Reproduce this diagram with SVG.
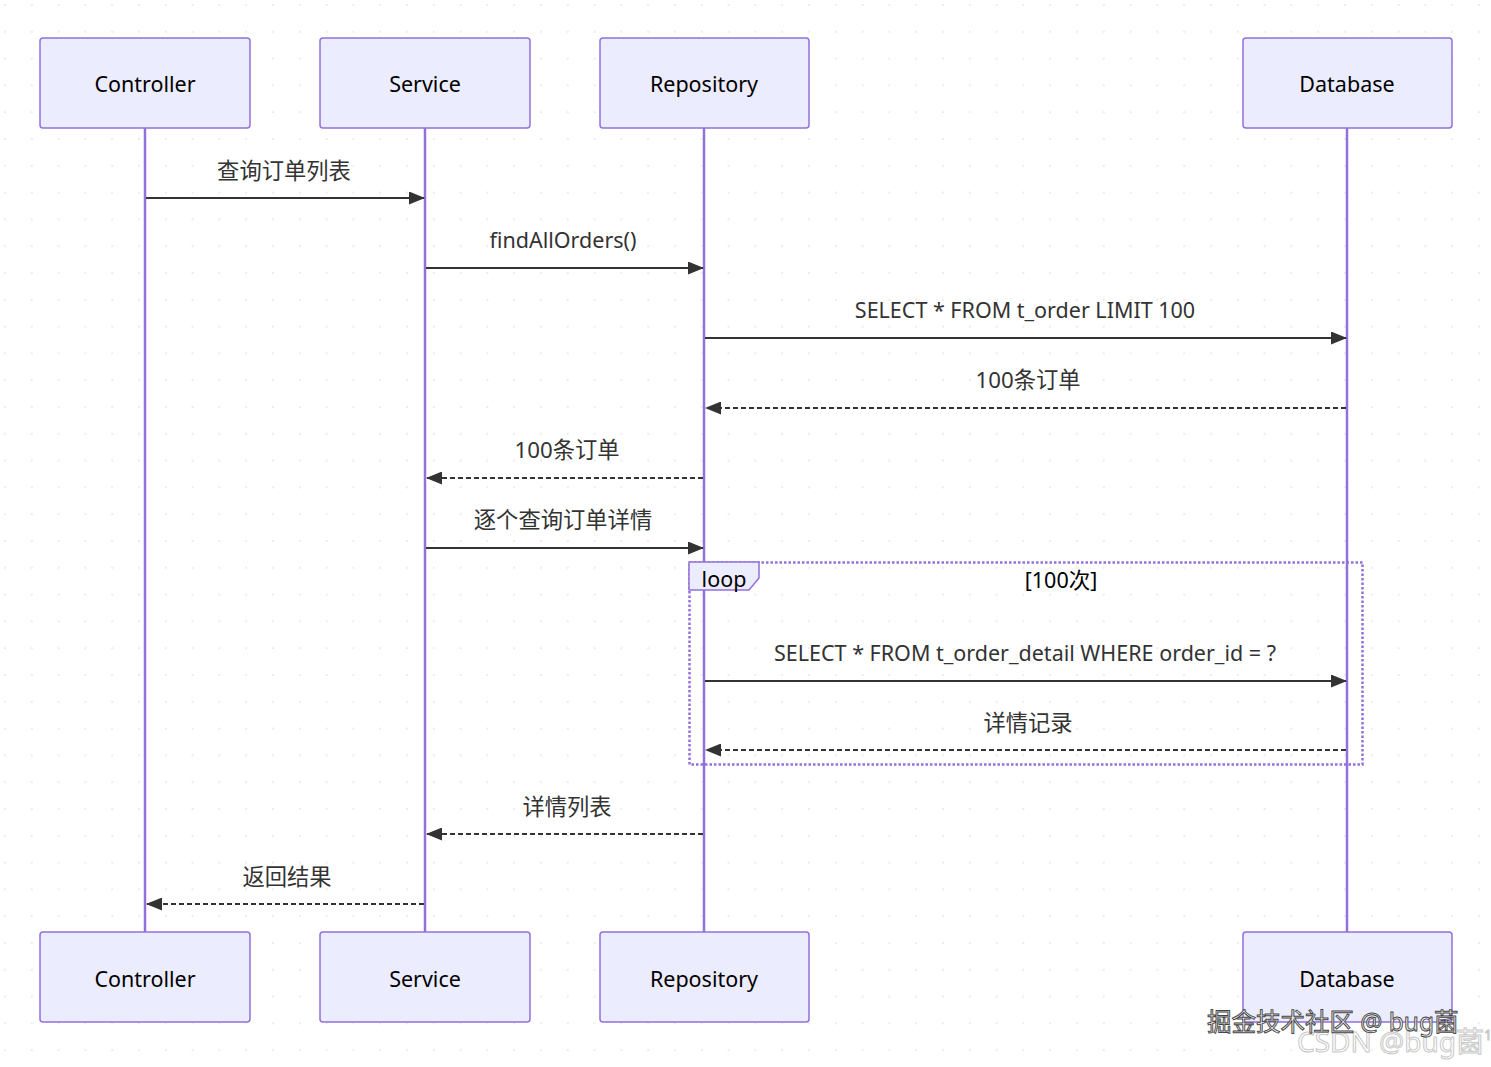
<svg xmlns="http://www.w3.org/2000/svg" width="1491" height="1067" viewBox="0 0 1491 1067">
<style>
.actor{fill:#ECECFF;stroke:#9370DB;stroke-width:1.5}
.atext{font-family:"Noto Sans","Noto Sans CJK SC",sans-serif;font-size:21.5px;fill:#000;text-anchor:middle;dominant-baseline:central}
.life{stroke:#9370DB;stroke-width:2.5}
.msg{stroke:#333;stroke-width:2;fill:none}
.dash{stroke-dasharray:5,3}
.mtext{font-family:"Noto Sans","Noto Sans CJK SC",sans-serif;font-size:21.5px;fill:#333;text-anchor:middle;dominant-baseline:central}
.cjk{font-size:22.3px}
.loop{fill:none;stroke:#9370DB;stroke-width:2.5;stroke-dasharray:2.5,2}
</style>
<defs>
<pattern id="dots" width="26.8" height="26.8" patternUnits="userSpaceOnUse" x="4" y="4">
<circle cx="1" cy="1" r="1" fill="#e6e6e6"/>
</pattern>
<marker id="ah" markerWidth="16" markerHeight="13" refX="15" refY="6.5" orient="auto" markerUnits="userSpaceOnUse">
<path d="M0,0 L16,6.5 L0,13 z" fill="#333"/>
</marker>
</defs>
<rect width="1491" height="1067" fill="#fff"/>
<rect width="1491" height="1067" fill="url(#dots)"/>
<g id="lifelines">
<line class="life" x1="145" y1="128" x2="145" y2="932"/>
<line class="life" x1="425" y1="128" x2="425" y2="932"/>
<line class="life" x1="704" y1="128" x2="704" y2="932"/>
<line class="life" x1="1347" y1="128" x2="1347" y2="932"/>
</g>
<g id="controller-top"><rect class="actor" x="40" y="38" width="210" height="90" rx="3"/><text class="atext" x="145" y="83">Controller</text></g>
<g id="service-top"><rect class="actor" x="320" y="38" width="210" height="90" rx="3"/><text class="atext" x="425" y="83">Service</text></g>
<g id="repository-top"><rect class="actor" x="600" y="38" width="209" height="90" rx="3"/><text class="atext" x="704" y="83">Repository</text></g>
<g id="database-top"><rect class="actor" x="1243" y="38" width="209" height="90" rx="3"/><text class="atext" x="1347" y="83">Database</text></g>
<g id="controller-bottom"><rect class="actor" x="40" y="932" width="210" height="90" rx="3"/><text class="atext" x="145" y="978">Controller</text></g>
<g id="service-bottom"><rect class="actor" x="320" y="932" width="210" height="90" rx="3"/><text class="atext" x="425" y="978">Service</text></g>
<g id="repository-bottom"><rect class="actor" x="600" y="932" width="209" height="90" rx="3"/><text class="atext" x="704" y="978">Repository</text></g>
<g id="database-bottom"><rect class="actor" x="1243" y="932" width="209" height="90" rx="3"/><text class="atext" x="1347" y="978">Database</text></g>
<g id="loop">
<rect class="loop" x="689.5" y="562.5" width="673" height="202"/>
<path d="M689,562 L759,562 L759,578 L749,590 L689,590 Z" fill="#ECECFF" stroke="#9370DB" stroke-width="1.5"/>
<text class="atext" x="724" y="578">loop</text>
<text class="atext" x="1061" y="579">[100次]</text>
</g>
<g id="connectors">
<line class="msg" x1="146" y1="198" x2="424" y2="198" marker-end="url(#ah)"/>
<text class="mtext cjk" x="284" y="170">查询订单列表</text>
<line class="msg" x1="426" y1="268" x2="703" y2="268" marker-end="url(#ah)"/>
<text class="mtext" x="563" y="239">findAllOrders()</text>
<line class="msg" x1="705" y1="338" x2="1346" y2="338" marker-end="url(#ah)"/>
<text class="mtext" x="1025" y="309">SELECT * FROM t_order LIMIT 100</text>
<line class="msg dash" x1="1346" y1="408" x2="706" y2="408" marker-end="url(#ah)"/>
<text class="mtext cjk" x="1028" y="379">100条订单</text>
<line class="msg dash" x1="703" y1="478" x2="427" y2="478" marker-end="url(#ah)"/>
<text class="mtext cjk" x="567" y="449">100条订单</text>
<line class="msg" x1="426" y1="548" x2="703" y2="548" marker-end="url(#ah)"/>
<text class="mtext cjk" x="563" y="519">逐个查询订单详情</text>
<line class="msg" x1="705" y1="681" x2="1346" y2="681" marker-end="url(#ah)"/>
<text class="mtext" x="1025" y="652">SELECT * FROM t_order_detail WHERE order_id = ?</text>
<line class="msg dash" x1="1346" y1="750" x2="706" y2="750" marker-end="url(#ah)"/>
<text class="mtext cjk" x="1028" y="722">详情记录</text>
<line class="msg dash" x1="703" y1="834" x2="427" y2="834" marker-end="url(#ah)"/>
<text class="mtext cjk" x="567" y="806">详情列表</text>
<line class="msg dash" x1="424" y1="904" x2="147" y2="904" marker-end="url(#ah)"/>
<text class="mtext cjk" x="287" y="876">返回结果</text>
</g>
<g id="watermarks" font-family="'Noto Sans','Noto Sans CJK SC',sans-serif">
<text x="1297" y="1052" font-size="28" fill="#fff" stroke="#c8c8c8" stroke-width="1">CSDN @bug菌<tspan font-size="14" dy="-12">1</tspan></text>
<text x="1207" y="1031" font-size="24.5" fill="#eee" stroke="#444" stroke-width="0.9">掘金技术社区 @ bug菌</text>
</g>
</svg>
